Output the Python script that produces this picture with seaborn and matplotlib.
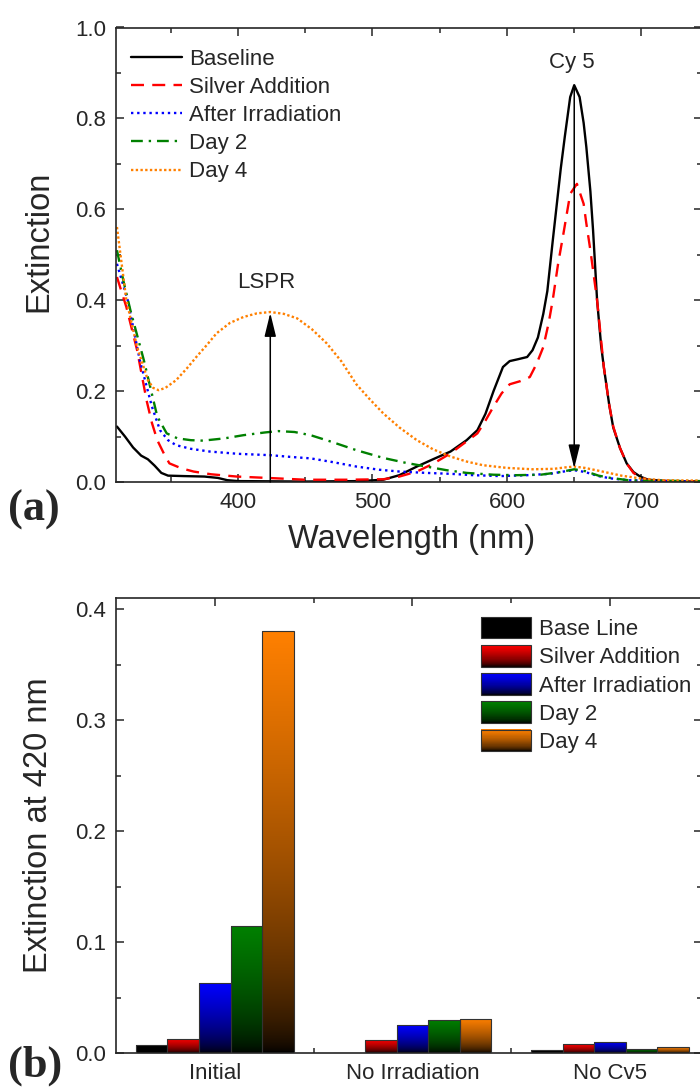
import numpy as np
import pandas as pd
import matplotlib
matplotlib.use("Agg")
import matplotlib.pyplot as plt
import seaborn as sns
from matplotlib.ticker import MultipleLocator, FixedLocator
from matplotlib.patches import Rectangle
from matplotlib.legend_handler import HandlerBase
from matplotlib.colors import to_rgb

# ---------------- data: panel (a) spectra ----------------
wl_baseline = [310, 316, 322, 328, 333, 338, 343, 348, 360, 375, 385, 392, 400, 450, 490, 508, 520, 533,
               545, 558, 570, 578, 584, 590, 597, 602, 608, 615, 619, 623, 627, 630, 634, 637, 640, 643,
               647, 650, 654, 657, 659, 662, 664, 667, 670, 672, 676, 679, 684, 689, 694, 699, 705, 720, 745]
ext_baseline = [0.122, 0.100, 0.076, 0.058, 0.050, 0.036, 0.020, 0.014, 0.013, 0.012, 0.009, 0.004, 0.002,
                0.001, 0.002, 0.005, 0.015, 0.034, 0.050, 0.067, 0.092, 0.114, 0.150, 0.200, 0.253, 0.266,
                0.270, 0.275, 0.290, 0.318, 0.370, 0.420, 0.530, 0.610, 0.690, 0.760, 0.847, 0.873, 0.847,
                0.790, 0.737, 0.640, 0.554, 0.400, 0.300, 0.253, 0.170, 0.120, 0.075, 0.041, 0.022, 0.012,
                0.005, 0.002, 0.001]

wl_silver = [310, 317, 325, 332, 336, 340, 345, 349, 358, 367, 380, 399, 429, 450, 480, 508, 520, 533, 545,
             558, 568, 578, 584, 590, 596, 602, 610, 617, 622, 627, 631, 634, 638, 642, 647, 652, 657, 659,
             662, 667, 672, 676, 679, 684, 689, 694, 699, 705, 720, 745]
ext_silver = [0.451, 0.385, 0.290, 0.180, 0.130, 0.092, 0.062, 0.041, 0.030, 0.023, 0.017, 0.012, 0.008,
              0.005, 0.005, 0.006, 0.012, 0.023, 0.040, 0.063, 0.085, 0.107, 0.135, 0.166, 0.195, 0.215,
              0.222, 0.231, 0.260, 0.297, 0.350, 0.400, 0.480, 0.547, 0.634, 0.656, 0.612, 0.569, 0.510,
              0.400, 0.253, 0.170, 0.122, 0.075, 0.041, 0.020, 0.010, 0.004, 0.002, 0.001]

wl_irrad = [310, 318, 327, 336, 342, 348, 354, 365, 379, 400, 424, 440, 454, 470, 488, 505, 520, 540, 558,
            575, 595, 615, 632, 642, 650, 658, 668, 677, 690, 710, 745]
ext_irrad = [0.480, 0.400, 0.268, 0.166, 0.114, 0.092, 0.081, 0.073, 0.067, 0.062, 0.059, 0.055, 0.052,
             0.044, 0.034, 0.027, 0.023, 0.020, 0.018, 0.015, 0.013, 0.015, 0.018, 0.023, 0.026, 0.022,
             0.013, 0.008, 0.004, 0.002, 0.001]

wl_day2 = [310, 315, 320, 330, 340, 347, 355, 365, 374, 390, 404, 420, 430, 442, 454, 470, 488, 508, 525,
           540, 555, 570, 590, 607, 625, 640, 650, 658, 668, 677, 690, 700, 745]
ext_day2 = [0.510, 0.440, 0.378, 0.268, 0.144, 0.107, 0.096, 0.092, 0.091, 0.096, 0.103, 0.109, 0.112,
            0.110, 0.103, 0.088, 0.070, 0.053, 0.042, 0.034, 0.026, 0.020, 0.016, 0.015, 0.016, 0.022,
            0.028, 0.024, 0.014, 0.009, 0.004, 0.003, 0.002]

wl_day4 = [310, 317, 325, 333, 337, 341, 346, 354, 362, 369, 377, 384, 394, 404, 414, 424, 434, 444, 455,
           466, 477, 488, 498, 508, 520, 533, 545, 558, 570, 582, 600, 619, 635, 643, 650, 658, 671, 685,
           699, 715, 745]
ext_day4 = [0.561, 0.400, 0.297, 0.224, 0.207, 0.202, 0.207, 0.224, 0.250, 0.275, 0.302, 0.327, 0.350,
            0.363, 0.371, 0.374, 0.370, 0.360, 0.336, 0.305, 0.265, 0.215, 0.182, 0.151, 0.120, 0.092,
            0.072, 0.056, 0.045, 0.037, 0.031, 0.028, 0.029, 0.032, 0.034, 0.031, 0.023, 0.014, 0.008,
            0.004, 0.003]

spectra_labels = ["Baseline", "Silver Addition", "After Irradiation", "Day 2", "Day 4"]

# ---------------- data: panel (b) bars ----------------
categories = ["Initial", "No Irradiation", "No Cv5"]
bar_series = ["Base Line", "Silver Addition", "After Irradiation", "Day 2", "Day 4"]
vals_initial = [0.007, 0.013, 0.063, 0.114, 0.380]
vals_no_irradiation = [0.0, 0.012, 0.025, 0.030, 0.031]
vals_no_cv5 = [0.003, 0.008, 0.010, 0.004, 0.005]

# ---------------- style ----------------
sns.set_style("ticks")
plt.rcParams["font.family"] = ["Liberation Sans", "DejaVu Sans"]
plt.rcParams["axes.linewidth"] = 1.2

colors = ["#000000", "#FF0000", "#0000FF", "#008000", "#FF8000"]
GAMMA = 0.6

fig = plt.figure(figsize=(7.0, 10.9), dpi=100)
W, H = 700.0, 1090.0
ax1 = fig.add_axes([116 / W, 1 - 482 / H, 586 / W, 454.5 / H])
ax2 = fig.add_axes([116 / W, 1 - 1053 / H, 586 / W, 455 / H])

# ---------------- panel (a) ----------------
line_specs = [
    (wl_baseline, ext_baseline, colors[0], "-", 1.7),
    (wl_silver, ext_silver, colors[1], (0, (5.5, 3.5)), 1.7),
    (wl_irrad, ext_irrad, colors[2], (0, (1, 1.6)), 1.7),
    (wl_day2, ext_day2, colors[3], (0, (5, 2.5, 1, 2.5)), 1.7),
    (wl_day4, ext_day4, colors[4], (0, (1, 1.0)), 1.7),
]
for (wl, ex, c, ls, lw), lab in zip(line_specs, spectra_labels):
    sns.lineplot(x=wl, y=ex, ax=ax1, color=c, linestyle=ls, linewidth=lw, label=lab)

ax1.set_xlim(309.3, 745)
ax1.set_ylim(0, 1.0)
ax1.xaxis.set_major_locator(MultipleLocator(100))
ax1.xaxis.set_minor_locator(MultipleLocator(50))
ax1.yaxis.set_major_locator(MultipleLocator(0.2))
ax1.yaxis.set_minor_locator(MultipleLocator(0.1))
ax1.yaxis.set_major_formatter(matplotlib.ticker.FormatStrFormatter("%.1f"))
ax1.tick_params(which="both", direction="in", top=True, right=True, labelsize=16, width=1.1, pad=7)
ax1.tick_params(which="major", length=6)
ax1.tick_params(which="minor", length=3.5)
ax1.set_xlabel("Wavelength (nm)", fontsize=23.5)
ax1.set_ylabel("Extinction", fontsize=23.5)
ax1.xaxis.set_label_coords(0.505, -0.093)
ax1.yaxis.set_label_coords(-0.105, 0.53)

ax1.annotate("", xy=(424, 0.372), xytext=(424, 0.0),
             arrowprops=dict(arrowstyle="-|>,head_length=0.9,head_width=0.22", color="black",
                             lw=1.1, shrinkA=0, shrinkB=0, mutation_scale=16))
ax1.annotate("", xy=(650, 0.03), xytext=(650, 0.873),
             arrowprops=dict(arrowstyle="-|>,head_length=0.9,head_width=0.22", color="black",
                             lw=1.1, shrinkA=0, shrinkB=0, mutation_scale=16))
ax1.text(421, 0.44, "LSPR", fontsize=16, ha="center", va="center")
ax1.text(648.5, 0.922, "Cy 5", fontsize=16, ha="center", va="center")

ax1.legend(loc="upper left", bbox_to_anchor=(0.0256, 0.953), frameon=False, fontsize=16,
           handlelength=2.3, handletextpad=0.3, labelspacing=0.32, borderpad=0, borderaxespad=0)

# ---------------- panel (b) ----------------
rows = []
for cat, vals in zip(categories, [vals_initial, vals_no_irradiation, vals_no_cv5]):
    for s, v in zip(bar_series, vals):
        rows.append({"cat": cat, "series": s, "value": v})
df = pd.DataFrame(rows)

sns.barplot(data=df, x="cat", y="value", hue="series", order=categories, hue_order=bar_series,
            palette=colors, saturation=1, width=0.8, ax=ax2, legend=False,
            edgecolor="#333333", linewidth=0.8)

grad = (np.linspace(0.0, 1.0, 256) ** GAMMA)[:, None, None]
for patch in list(ax2.patches):
    x0, y0 = patch.get_x(), patch.get_y()
    w, h = patch.get_width(), patch.get_height()
    col = np.array(to_rgb(patch.get_facecolor()))
    if h > 0:
        img = grad * col[None, None, :]
        im = ax2.imshow(img, extent=[x0, x0 + w, y0, y0 + h], origin="lower", aspect="auto",
                        interpolation="bilinear", zorder=2)
        im.set_clip_path(patch)
    patch.set_facecolor("none")
    patch.set_zorder(3)

ax2.set_xlim(-0.5, 2.466)
ax2.set_ylim(0, 0.41)
ax2.set_aspect("auto")
ax2.yaxis.set_major_locator(MultipleLocator(0.1))
ax2.yaxis.set_minor_locator(MultipleLocator(0.05))
ax2.yaxis.set_major_formatter(matplotlib.ticker.FormatStrFormatter("%.1f"))
ax2.xaxis.set_minor_locator(FixedLocator([0.5, 1.5]))
ax2.tick_params(which="both", direction="in", top=True, right=True, labelsize=16, width=1.1, pad=7)
ax2.tick_params(which="major", length=6)
ax2.tick_params(which="minor", length=3.5)
ax2.set_xlabel("")
ax2.set_ylabel("Extinction at 420 nm", fontsize=23.5)
ax2.yaxis.set_label_coords(-0.105, 0.5)


class GradientHandler(HandlerBase):
    def create_artists(self, legend, orig_handle, xdescent, ydescent, width, height, fontsize, trans):
        col = np.array(to_rgb(orig_handle.get_facecolor()))
        n = 40
        arts = []
        for i in range(n):
            f = ((i + 0.5) / n) ** GAMMA
            r = Rectangle((-xdescent, -ydescent + height * i / n), width, height / n * 1.15,
                          facecolor=col * f, edgecolor="none", transform=trans, antialiased=False)
            arts.append(r)
        border = Rectangle((-xdescent, -ydescent), width, height, facecolor="none",
                           edgecolor="#333333", lw=0.8, transform=trans)
        arts.append(border)
        return arts


handles = [Rectangle((0, 0), 1, 1, facecolor=c) for c in colors]
ax2.legend(handles, bar_series, handler_map={Rectangle: GradientHandler()}, loc="upper left",
           bbox_to_anchor=(0.623, 0.958), frameon=False, fontsize=16, handlelength=2.25,
           handleheight=1.1, handletextpad=0.35, labelspacing=0.22, borderpad=0, borderaxespad=0)

fig.text(8 / W, 1 - 510 / H, "(a)", fontsize=32, fontweight="bold", family="Liberation Serif",
         va="center", ha="left")
fig.text(8 / W, 1 - 1066 / H, "(b)", fontsize=32, fontweight="bold", family="Liberation Serif",
         va="center", ha="left")

fig.savefig("out.png", dpi=100)
